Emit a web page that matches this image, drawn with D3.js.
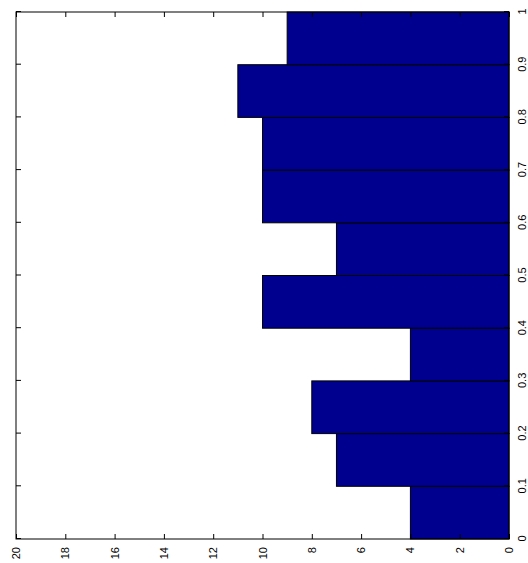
<!DOCTYPE html>
<html>
<head>
<meta charset="utf-8">
<script src="https://cdn.jsdelivr.net/npm/d3@7"></script>
<style>
  html, body { margin: 0; padding: 0; background: #fff; }
  svg { display: block; }
  text { font-family: "Liberation Sans", Arial, Helvetica, sans-serif; font-size: 11px; fill: #000; }
</style>
</head>
<body>
<script>
// Histogram bins (left edges) and counts
const binEdges = [0, 0.1, 0.2, 0.3, 0.4, 0.5, 0.6, 0.7, 0.8, 0.9];
const binWidth = 0.1;
const counts = [4, 7, 8, 4, 10, 7, 10, 10, 11, 9];
const binTicks = [0, 0.1, 0.2, 0.3, 0.4, 0.5, 0.6, 0.7, 0.8, 0.9, 1];
const countTicks = [0, 2, 4, 6, 8, 10, 12, 14, 16, 18, 20];

const W = 528, H = 563;
// Axes frame drawn in its own (unrotated) coordinates, then turned -90°
const frameW = 527;   // length of the bin axis
const frameH = 493;   // length of the count axis

const svg = d3.select("body").append("svg")
  .attr("width", W).attr("height", H);

const g = svg.append("g")
  .attr("transform", "translate(16,539) rotate(-90)");

const x = d3.scaleLinear().domain([0, 1]).range([0, frameW]);
const y = d3.scaleLinear().domain([0, 20]).range([frameH, 0]);

// Bars
g.selectAll("rect.bar")
  .data(binEdges.map((e, i) => ({ e, c: counts[i] })))
  .join("rect")
  .attr("class", "bar")
  .attr("x", d => x(d.e))
  .attr("width", d => x(d.e + binWidth) - x(d.e))
  .attr("y", d => y(d.c))
  .attr("height", d => y(0) - y(d.c))
  .attr("fill", "#00008f")
  .attr("stroke", "#000")
  .attr("stroke-width", 1);

const tickLen = 5;

// Bin axis (bottom) with labels, inward ticks
const axB = d3.axisBottom(x).tickValues(binTicks).tickSizeInner(-tickLen).tickSizeOuter(0)
  .tickPadding(9).tickFormat(d3.format("~g"));
g.append("g").attr("transform", `translate(0,${frameH})`).call(axB);

// Bin axis (top) ticks only
const axT = d3.axisTop(x).tickValues(binTicks).tickSizeInner(-tickLen).tickSizeOuter(0).tickFormat("");
g.append("g").call(axT);

// Count axis (left) with labels
const axL = d3.axisLeft(y).tickValues(countTicks).tickSizeInner(-tickLen).tickSizeOuter(0)
  .tickPadding(8).tickFormat(d3.format("d"));
g.append("g").call(axL);

// Count axis (right) ticks only
const axR = d3.axisRight(y).tickValues(countTicks).tickSizeInner(-tickLen).tickSizeOuter(0).tickFormat("");
g.append("g").attr("transform", `translate(${frameW},0)`).call(axR);

// Box
g.append("rect")
  .attr("x", 0).attr("y", 0).attr("width", frameW).attr("height", frameH)
  .attr("fill", "none").attr("stroke", "#000").attr("stroke-width", 1);

g.selectAll(".domain").remove();
g.selectAll(".tick line").attr("stroke", "#000");
g.selectAll(".tick text")
  .style("font-family", '"Liberation Sans", Arial, Helvetica, sans-serif')
  .style("font-size", "11px")
  .attr("fill", "#000");
</script>
</body>
</html>
